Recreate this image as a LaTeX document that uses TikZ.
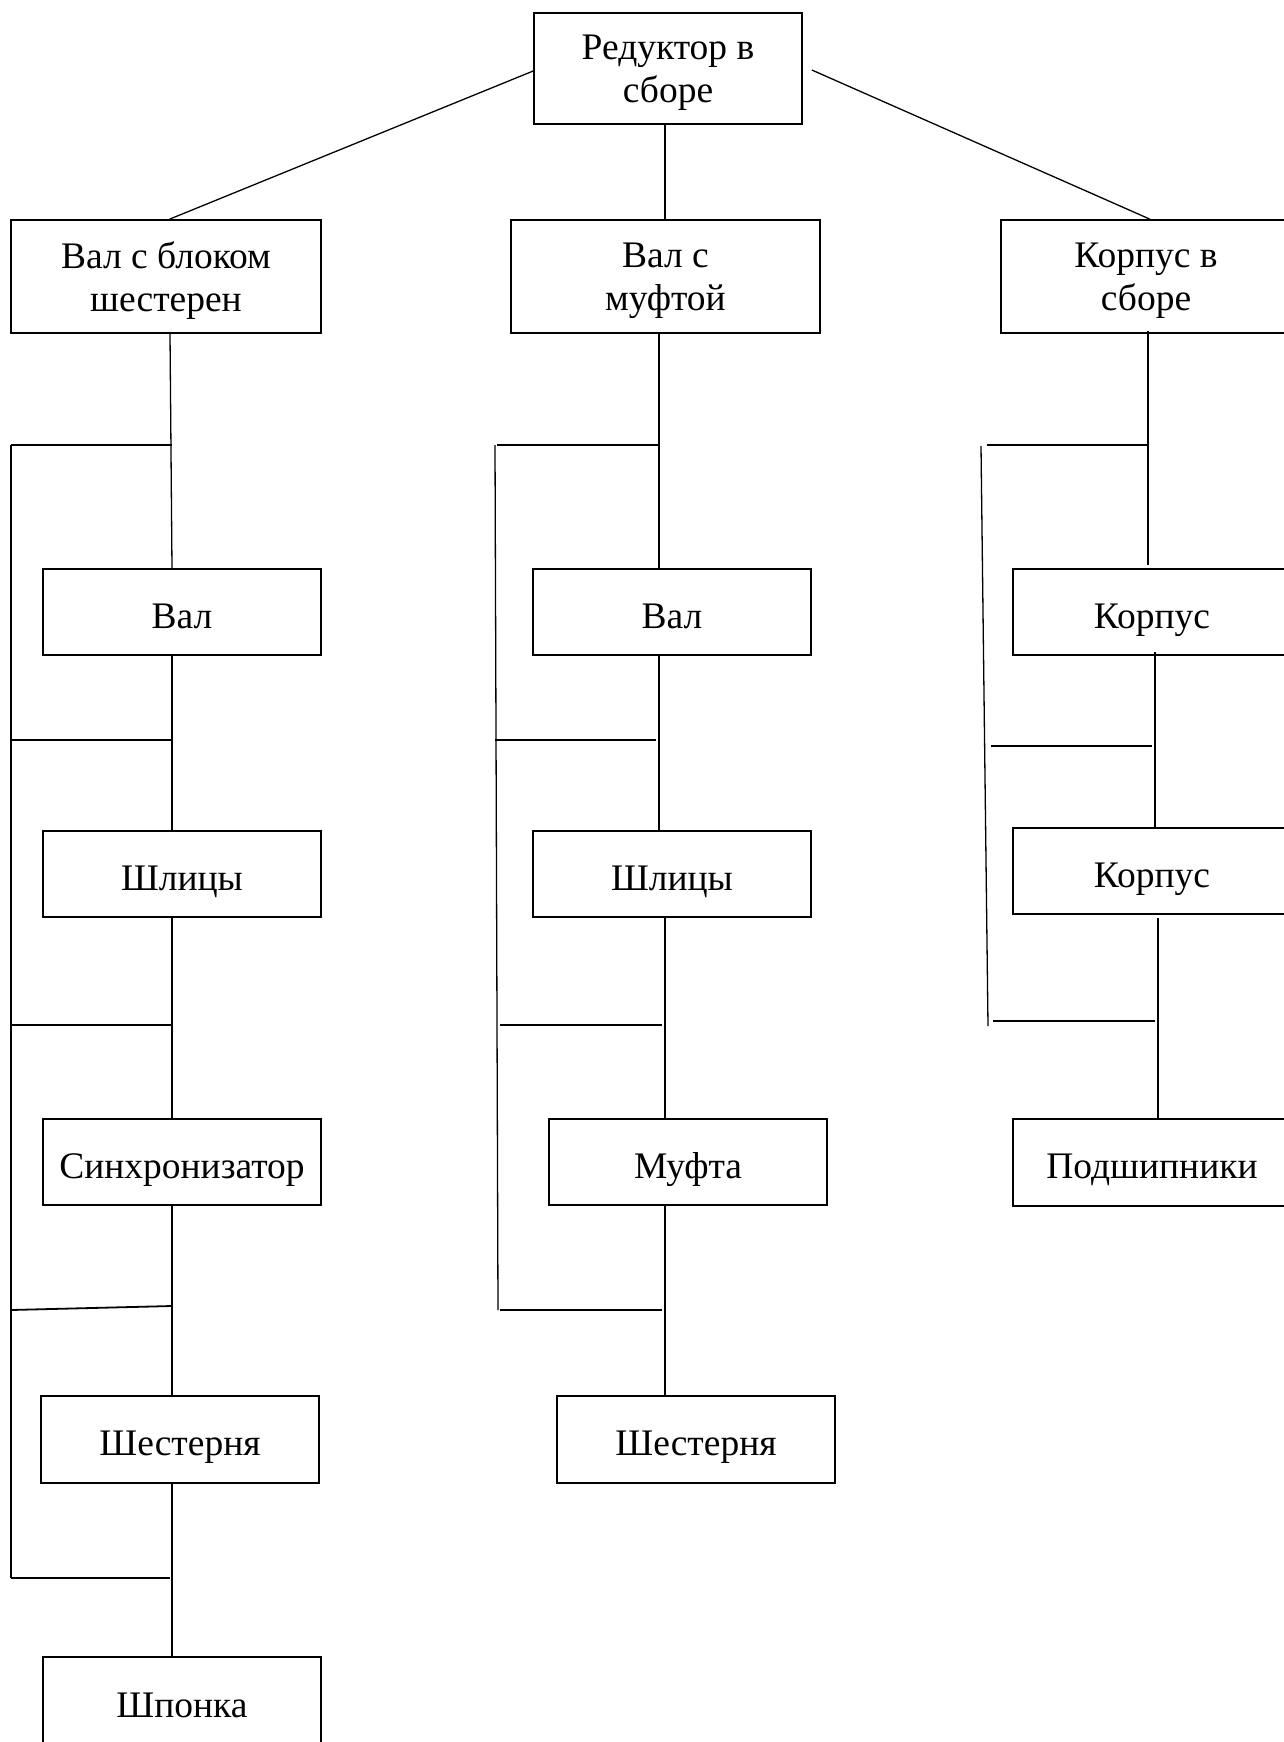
\documentclass[tikz,border=0pt]{standalone}
\usepackage{fontspec}
\setmainfont{Liberation Serif}
\begin{document}
\begin{tikzpicture}[x=1pt,y=-1pt,
  box/.style={draw, line width=1.6pt, rectangle, inner sep=0pt, align=center,
              font=\fontsize{37.5}{43}\selectfont},
  bigbox/.style={box, minimum height=113pt, text depth=0pt},
  smallbox/.style={box, minimum width=278pt, minimum height=86pt, text height=32pt, text depth=0pt},
  conn/.style={line width=1.3pt},
  tick/.style={line width=1.8pt}]
\clip (0,0) rectangle (1284,1742);
\fill[white] (0,0) rectangle (1284,1742);

% nodes
\node[box, minimum width=268pt, minimum height=111pt, text depth=0pt] (T) at (668,68.5) {Редуктор в\\сборе};
\node[bigbox, minimum width=310pt] (A) at (166,276.5) {Вал с блоком\\шестерен};
\node[bigbox, minimum width=309pt] (B) at (665.5,276.5) {Вал с\\муфтой};
\node[bigbox, minimum width=290pt] (C) at (1146,276.5) {Корпус в\\сборе};

\node[smallbox] (A1) at (182,612) {Вал};
\node[smallbox] (A2) at (182,874) {Шлицы};
\node[smallbox] (A3) at (182,1162) {Синхронизатор};
\node[smallbox, minimum height=87pt] (A4) at (180,1439.5) {Шестерня};
\node[smallbox, minimum height=88pt] (A5) at (182,1701) {Шпонка};

\node[smallbox] (B1) at (672,612) {Вал};
\node[smallbox] (B2) at (672,874) {Шлицы};
\node[smallbox] (B3) at (688,1162) {Муфта};
\node[smallbox, minimum height=87pt] (B4) at (696,1439.5) {Шестерня};

\node[smallbox] (C1) at (1152,612) {Корпус};
\node[smallbox] (C2) at (1152,871) {Корпус};
\node[smallbox, minimum height=87pt] (C3) at (1152,1162.5) {Подшипники};

% x positions of connectors
\coordinate (xa0) at (169.5,0);
\coordinate (xb0) at (665,0);
\coordinate (xc0) at (1150,0);
\coordinate (xa1) at (170,0);
\coordinate (xa2) at (172,0);
\coordinate (xb1) at (659,0);
\coordinate (xb2) at (665,0);
\coordinate (xc1) at (1148,0);
\coordinate (xc2) at (1155,0);
\coordinate (xc3) at (1158,0);

% top connectors
\draw[conn] ([yshift=-2.5pt]T.west) -- (A.north -| xa0);
\draw[conn] (T.south -| xb0) -- (B.north -| xb0);
\draw[conn] ([xshift=9pt,yshift=-1.5pt]T.east) -- (C.north -| xc0);

% left column
\draw[conn] (A.south -| xa1) -- (A1.north -| xa2);
\draw[conn] (A1.south -| xa2) -- (A2.north -| xa2);
\draw[conn] (A2.south -| xa2) -- (A3.north -| xa2);
\draw[conn] (A3.south -| xa2) -- (A4.north -| xa2);
\draw[conn] (A4.south -| xa2) -- (A5.north -| xa2);

\coordinate (la0) at (11,445);
\coordinate (la1) at (11,740);
\coordinate (la2) at (11,1025);
\coordinate (la3) at (11,1310);
\coordinate (la4) at (11,1578);
\coordinate (ra0) at (172,445);
\coordinate (ra1) at (172,740);
\coordinate (ra2) at (172,1025);
\coordinate (ra3) at (172,1306);
\coordinate (ra4) at (169.5,1578);
\draw[conn] (la0) -- (la4);
\draw[tick] (la0) -- (ra0);
\draw[tick] (la1) -- (ra1);
\draw[tick] (la2) -- (ra2);
\draw[tick] (la3) -- (ra3);
\draw[tick] (la4) -- (ra4);

% middle column
\draw[conn] (B.south -| xb1) -- (B1.north -| xb1);
\draw[conn] (B1.south -| xb1) -- (B2.north -| xb1);
\draw[conn] (B2.south -| xb2) -- (B3.north -| xb2);
\draw[conn] (B3.south -| xb2) -- (B4.north -| xb2);

\coordinate (mv0) at (495,445);
\coordinate (mv1) at (498,1310);
\draw[conn] (mv0) -- (mv1);
\coordinate (ml0) at (497,445);
\coordinate (ml1) at (495,740);
\coordinate (ml2) at (500,1025);
\coordinate (ml3) at (500,1310);
\coordinate (mr0) at (659,445);
\coordinate (mr1) at (656,740);
\coordinate (mr2) at (662,1025);
\coordinate (mr3) at (662,1310);
\draw[tick] (ml0) -- (mr0);
\draw[tick] (ml1) -- (mr1);
\draw[tick] (ml2) -- (mr2);
\draw[tick] (ml3) -- (mr3);

% right column
\draw[conn] ([yshift=3pt]C.south -| xc1) -- ([yshift=3pt]C1.north -| xc1);
\draw[conn] ([yshift=4pt]C1.south -| xc2) -- (C2.north -| xc2);
\draw[conn] ([yshift=-3pt]C2.south -| xc3) -- (C3.north -| xc3);

\coordinate (rv0) at (981,446);
\coordinate (rv1) at (988,1026);
\draw[conn] (rv0) -- (rv1);
\coordinate (rl0) at (987,445);
\coordinate (rl1) at (991,746);
\coordinate (rl2) at (993,1021);
\coordinate (rr0) at (1148,445);
\coordinate (rr1) at (1152,746);
\coordinate (rr2) at (1155,1021);
\draw[tick] (rl0) -- (rr0);
\draw[tick] (rl1) -- (rr1);
\draw[tick] (rl2) -- (rr2);
\end{tikzpicture}
\end{document}
